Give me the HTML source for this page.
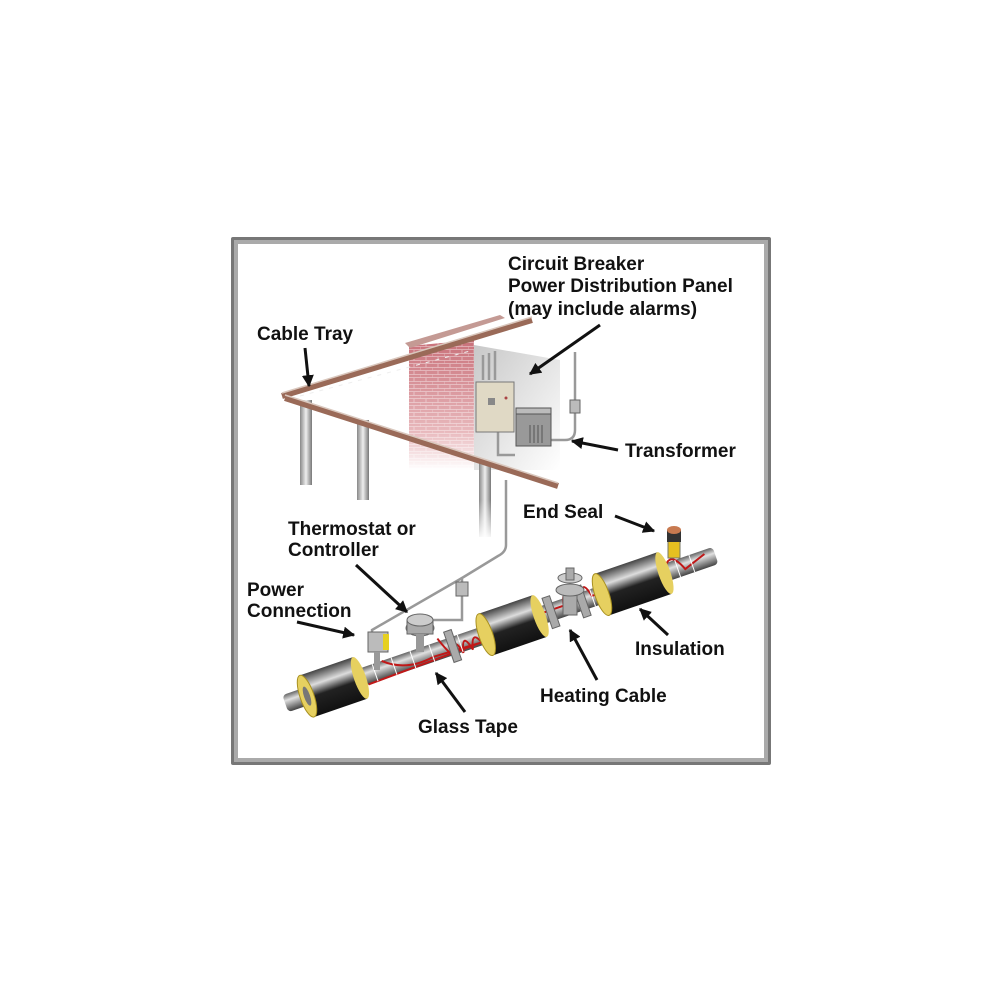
<!DOCTYPE html>
<html><head><meta charset="utf-8"><style>
html,body{margin:0;padding:0;background:#fff;width:1000px;height:1000px;overflow:hidden}
svg{display:block}
text{font-family:"Liberation Sans",Arial,sans-serif;font-weight:bold;font-size:19px;fill:#111}
</style></head><body>
<svg width="1000" height="1000" viewBox="0 0 1000 1000" xmlns="http://www.w3.org/2000/svg">
<defs>
<marker id="ah" viewBox="0 0 10 10" refX="9" refY="5" markerWidth="4" markerHeight="4" orient="auto"><path d="M0,0 L10,5 L0,10 z" fill="#111"/></marker>
<linearGradient id="ins" x1="0" y1="0" x2="0" y2="1"><stop offset="0" stop-color="#444"/><stop offset="0.3" stop-color="#ddd"/><stop offset="0.55" stop-color="#222"/><stop offset="1" stop-color="#111"/></linearGradient>
<linearGradient id="pipe" x1="0" y1="0" x2="0" y2="1"><stop offset="0" stop-color="#666"/><stop offset="0.35" stop-color="#e0e0e0"/><stop offset="1" stop-color="#444"/></linearGradient>
<linearGradient id="post" x1="0" y1="0" x2="1" y2="0"><stop offset="0" stop-color="#888"/><stop offset="0.5" stop-color="#eee"/><stop offset="1" stop-color="#777"/></linearGradient>
<linearGradient id="postf" x1="0" y1="0" x2="0" y2="1"><stop offset="0.6" stop-color="#fff" stop-opacity="0"/><stop offset="1" stop-color="#fff" stop-opacity="1"/></linearGradient>
<linearGradient id="brick" x1="0" y1="0" x2="0" y2="1"><stop offset="0" stop-color="#c9717a"/><stop offset="0.7" stop-color="#e8b8bc"/><stop offset="1" stop-color="#fff"/></linearGradient>
<linearGradient id="wallg" x1="0" y1="0" x2="1" y2="1"><stop offset="0" stop-color="#c8c8c8"/><stop offset="1" stop-color="#fff"/></linearGradient>
<pattern id="bp" width="12" height="7" patternUnits="userSpaceOnUse"><path d="M0,6.5H12M6,0V3.5M0,3.5H12M0,3.5V6.5" stroke="#fff" stroke-opacity="0.5" stroke-width="0.8" fill="none"/></pattern>
</defs>
<!-- frame -->
<rect x="231" y="237" width="540" height="528" fill="#777" rx="2"/>
<rect x="234" y="240" width="534" height="522" fill="#aaa"/>
<rect x="238" y="244" width="526" height="514" fill="#fff"/>

<!-- wall -->
<polygon points="474,345 560,360 560,470 474,470" fill="url(#wallg)"/>
<polygon points="409,346 474,340 474,470 409,470" fill="url(#brick)"/>
<rect x="409" y="340" width="65" height="130" fill="url(#bp)"/>
<polygon points="405,343 500,315 505,318 410,348" fill="#c49a94"/>

<!-- posts -->
<rect x="300" y="400" width="12" height="85" fill="url(#post)"/>
<rect x="357" y="420" width="12" height="80" fill="url(#post)"/>
<rect x="479" y="462" width="12" height="75" fill="url(#post)"/>
<rect x="295" y="440" width="200" height="100" fill="url(#postf)"/>

<!-- cable trays -->
<line x1="282" y1="396" x2="532" y2="320" stroke="#9a6a58" stroke-width="6"/>
<line x1="282" y1="393" x2="532" y2="317" stroke="#d9c7bd" stroke-width="1.5"/>
<line x1="285" y1="398" x2="558" y2="486" stroke="#9a6a58" stroke-width="6"/>
<line x1="285" y1="395" x2="558" y2="483" stroke="#d9c7bd" stroke-width="1.5"/>
<line x1="300" y1="396" x2="470" y2="351" stroke="#eee" stroke-width="1" stroke-dasharray="4 6"/>

<!-- conduits -->
<g stroke="#999" stroke-width="2.5" fill="none">
<path d="M483,355V380M489,353V380M495,351V380"/>
<path d="M498,430V455H515"/>
<path d="M575,352V430Q575,440 565,440H550"/>
<path d="M506,480V545Q506,552 498,556L462,578V620L420,620"/>
<path d="M462,578L372,630V640"/>
</g>
<rect x="570" y="400" width="10" height="13" fill="#bbb" stroke="#666"/>
<rect x="456" y="582" width="12" height="14" fill="#bbb" stroke="#666"/>

<!-- panel -->
<rect x="476" y="382" width="38" height="50" fill="#e0d9c5" stroke="#777"/>
<rect x="488" y="398" width="7" height="7" fill="#888"/>
<circle cx="506" cy="398" r="1.5" fill="#a44"/>
<!-- transformer -->
<rect x="516" y="413" width="35" height="33" fill="#999" stroke="#555"/>
<rect x="516" y="408" width="35" height="6" fill="#bbb" stroke="#555"/>
<path d="M530,425V443M534,425V443M538,425V443M542,425V443" stroke="#555"/>

<!-- pipe -->
<g transform="rotate(-19 290 702)"><g transform="translate(290,0)">
<rect x="-5" y="693" width="455" height="18" fill="url(#pipe)" rx="4"/>
<path d="M80,711 L200,708 M100,693 Q120,711 150,706 L200,708" stroke="#c01818" stroke-width="2" fill="none"/>
<path d="M160,690 q5,15 10,22 q5,-22 10,0 q5,-22 10,0 q5,-22 12,0 M265,700 L290,700 q5,-22 10,0 q5,-22 10,0 q5,-22 10,0 L330,700 M397,700 q10,-20 20,5 L440,697" stroke="#c01818" stroke-width="2" fill="none"/>
<g stroke="#fff" stroke-width="1">
<path d="M90,693V711M110,693V711M130,693V711M150,693V711M180,693V711M235,693V711M305,693V711M320,693V711M410,693V711M425,693V711"/>
</g>
<rect x="168" y="686" width="8" height="32" fill="#aaa" stroke="#666"/>
<rect x="272" y="686" width="8" height="32" fill="#aaa" stroke="#666"/>
<rect x="305" y="686" width="8" height="32" fill="#aaa" stroke="#666"/>
<rect x="18" y="680" width="56" height="44" fill="url(#ins)"/>
<ellipse cx="18" cy="702" rx="7" ry="22" fill="#e6d060" stroke="#a89020"/>
<ellipse cx="18" cy="702" rx="3" ry="10" fill="#777"/>
<ellipse cx="74" cy="702" rx="6" ry="22" fill="#e6d060"/>
<rect x="207" y="680" width="57" height="44" fill="url(#ins)"/>
<ellipse cx="207" cy="702" rx="7" ry="22" fill="#e6d060" stroke="#a89020"/>
<ellipse cx="264" cy="702" rx="6" ry="22" fill="#e6d060"/>
<rect x="330" y="680" width="66" height="44" fill="url(#ins)"/>
<ellipse cx="330" cy="702" rx="7" ry="22" fill="#e6d060" stroke="#a89020"/>
<ellipse cx="396" cy="702" rx="6" ry="22" fill="#e6d060"/>
</g></g>

<!-- valve -->
<rect x="563" y="590" width="14" height="25" fill="#aaa" stroke="#666"/>
<ellipse cx="570" cy="590" rx="14" ry="6" fill="#bbb" stroke="#666"/>
<ellipse cx="570" cy="578" rx="12" ry="5" fill="#ccc" stroke="#666"/>
<rect x="566" y="568" width="8" height="12" fill="#aaa" stroke="#666"/>
<!-- thermostat -->
<ellipse cx="420" cy="628" rx="14" ry="8" fill="#bbb" stroke="#666"/>
<rect x="407" y="620" width="26" height="14" fill="#aaa" stroke="#666"/>
<ellipse cx="420" cy="620" rx="13" ry="6" fill="#ccc" stroke="#666"/>
<rect x="416" y="634" width="8" height="18" fill="#999"/>
<!-- power connection box -->
<rect x="368" y="632" width="20" height="20" fill="#bbb" stroke="#666"/>
<rect x="383" y="634" width="6" height="16" fill="#e6d020"/>
<rect x="374" y="652" width="6" height="18" fill="#999"/>
<!-- end seal -->
<rect x="668" y="540" width="12" height="18" fill="#e6c020" stroke="#776"/>
<rect x="667" y="530" width="14" height="12" fill="#333"/>
<ellipse cx="674" cy="530" rx="7" ry="4" fill="#c87a50"/>

<!-- arrows -->
<g stroke="#111" stroke-width="3" marker-end="url(#ah)">
<line x1="305" y1="348" x2="309" y2="386"/>
<line x1="600" y1="325" x2="530" y2="374"/>
<line x1="618" y1="450" x2="572" y2="441"/>
<line x1="615" y1="516" x2="654" y2="531"/>
<line x1="356" y1="565" x2="407" y2="612"/>
<line x1="297" y1="622" x2="354" y2="635"/>
<line x1="668" y1="635" x2="640" y2="609"/>
<line x1="597" y1="680" x2="570" y2="630"/>
<line x1="465" y1="712" x2="436" y2="673"/>
</g>

<!-- labels -->
<text x="508" y="270">Circuit Breaker</text>
<text x="508" y="292">Power Distribution Panel</text>
<text x="508" y="315">(may include alarms)</text>
<text x="257" y="340">Cable Tray</text>
<text x="625" y="457">Transformer</text>
<text x="523" y="518">End Seal</text>
<text x="288" y="535">Thermostat or</text>
<text x="288" y="556">Controller</text>
<text x="247" y="596">Power</text>
<text x="247" y="617">Connection</text>
<text x="635" y="655">Insulation</text>
<text x="540" y="702">Heating Cable</text>
<text x="418" y="733">Glass Tape</text>
</svg>
</body></html>
